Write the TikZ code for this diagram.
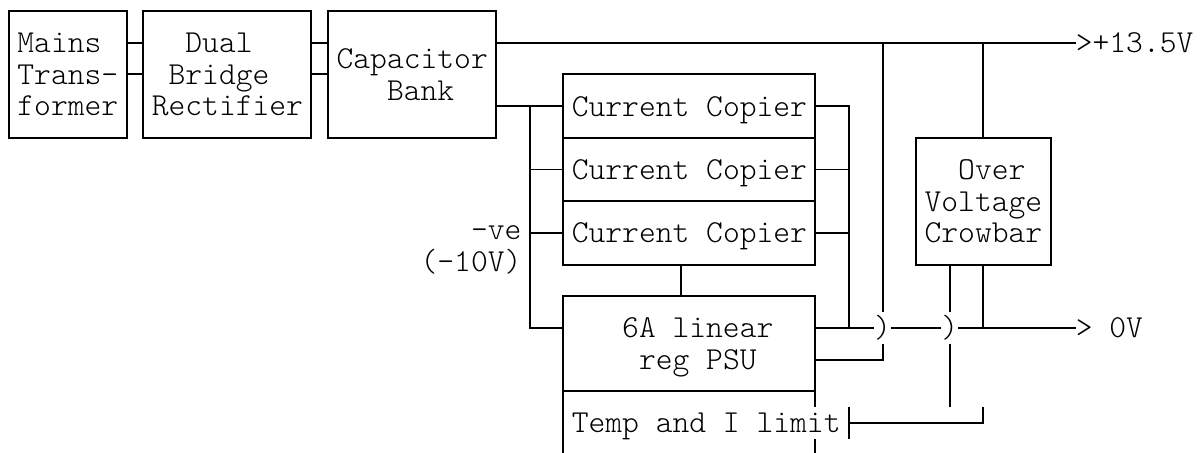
\documentclass[tikz,border=0pt]{standalone}
\usepackage{fontspec}
\usepackage{tikz}
\usetikzlibrary{positioning}
\newfontfamily\lightmono{Latin Modern Mono Light}
\newcommand\asciifont{\lightmono\fontsize{22.76}{22.55}\selectfont}

\begin{document}
\begin{tikzpicture}[x=0.42cm, y=-0.7925cm, line width=1.4pt,
    box/.style 2 args={draw, inner sep=0pt, outer sep=0pt, align=left,
        minimum width=#1*0.42cm, minimum height=#2*0.7925cm, text depth=0pt,
        font=\asciifont},
    lbl/.style={inner sep=0pt, outer sep=0pt, text depth=0pt, font=\asciifont},
    hop/.style={inner sep=0pt, outer sep=0pt, minimum width=0.42cm,
        minimum height=0.7925cm, font=\asciifont}]
    % Khung hình
    \path[fill=white, use as bounding box] (-0.536,-0.347) rectangle (71.012,13.912);
    \clip (-0.536,-0.347) rectangle (71.012,13.912);

    % Các khối chính
    \node[box={7}{4}] (mains) at (3.5,2) {Mains\\Trans-\\former};
    \node[box={10}{4}] (dual) at (13,2) {\phantom{xx}Dual\\\phantom{x}Bridge\\Rectifier};
    \node[box={10}{4}] (cap) at (24,2) {Capacitor\\\phantom{xxx}Bank};
    \node[box={15}{2}] (cc1) at (40.5,3) {Current Copier};
    \node[box={15}{2}, below=0pt of cc1] (cc2) {Current Copier};
    \node[box={15}{2}, below=0pt of cc2] (cc3) {Current Copier};
    \node[box={15}{3}, below=0.7925cm of cc3] (psu) {\phantom{x}6A linear\\\phantom{xx}reg PSU};
    \node[box={8}{4}] (crow) at (58,6) {\phantom{xx}Over\\Voltage\\Crowbar};
    \node[lbl, anchor=west] (temp) at (33.5,13) {Temp and I limit};

    % Nhãn
    \node[lbl, anchor=east, align=right] (neg) at (30.5,7.5) {-ve\\(-10V)};
    \node[lbl, anchor=west] (vplus) at (63.5,1) {>+13.5V};
    \node[lbl, anchor=west] (zero) at (63.5,10) {> 0V};
    \node[hop] (hopa) at (52,10) {)};
    \node[hop] (hopb) at (56,10) {)};
    \coordinate (negbus) at (31,3);
    \coordinate (gnd) at (50,10);
    \coordinate (tee) at (50,13);

    % Nối các khối
    \foreach \r in {1,2} {
        \draw (mains.east |- 0,\r) -- (dual.west |- 0,\r);
        \draw (dual.east |- 0,\r) -- (cap.west |- 0,\r);
    }
    \draw (cap.east |- 0,1) -- (vplus.west);
    \draw (cap.east |- 0,3) -- (cc1.west);
    \draw (negbus) |- (psu.west |- 0,10);
    \foreach \n in {cc2,cc3} {
        \draw (negbus |- \n.west) -- (\n.west);
    }
    \foreach \n in {cc1,cc2,cc3} {
        \draw (\n.east) -| (gnd);
    }
    \draw ([xshift=-0.21cm]cc3.south) -- ([xshift=-0.21cm]psu.north);

    % Đường 0V
    \draw (psu.east |- gnd) -- (hopa.west);
    \draw (hopa.east) -- (hopb.west);
    \draw (hopb.east) -- (zero.west);
    \draw (hopa |- vplus.west) -- (hopa.north);
    \draw (hopa.south) |- (psu.east |- 0,11);

    % Crowbar
    \draw (crow.north |- vplus.west) -- (crow.north);
    \draw (crow.south) -- (crow.south |- gnd);
    \draw (crow.south -| hopb) -- (hopb.north);
    \draw (hopb.south) -- (hopb |- 0,12.5);

    % Khối Temp and I limit
    \draw (psu.south west) -- ++(0,3);
    \draw (psu.south east) -- ++(0,0.5) ++(0,1) -- ++(0,1.5);
    \draw (tee) ++(0,-0.5) -- ++(0,1);
    \draw (tee) -| (crow.south |- 0,12.5);
\end{tikzpicture}
\end{document}
